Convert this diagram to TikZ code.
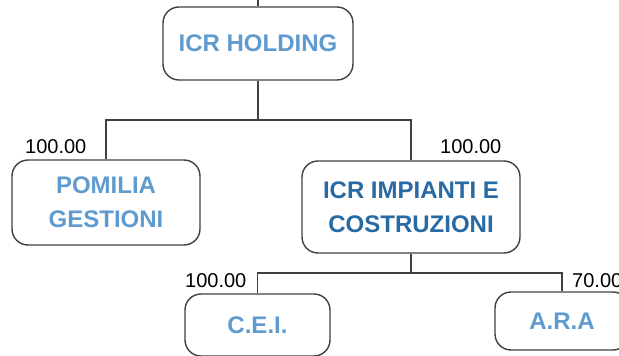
\documentclass[tikz,border=0pt]{standalone}
\usepackage{fontspec}
\setmainfont{Liberation Sans}
\usepackage{xcolor}
\usetikzlibrary{positioning}
\definecolor{orglight}{RGB}{96,155,208}
\definecolor{orgdark}{RGB}{40,106,163}
\definecolor{orgline}{RGB}{64,64,64}

\begin{document}
\begin{tikzpicture}[x=1pt, y=-1pt,
  every node/.style={font=\fontsize{24}{34}\selectfont\bfseries},
  unit/.style={draw=orgline, line width=1.4pt, rounded corners=16pt, fill=white, align=center,
    inner sep=0pt, text=orglight},
  head/.style={unit, text=orgdark},
  link/.style={draw=orgline, line width=1.1pt},
  share/.style={font=\fontsize{20}{24}\selectfont, anchor=base west, inner sep=0pt}
]
  \useasboundingbox (0,0) rectangle (619,356);
  \clip (0,0) rectangle (619,356);
  \def\colA{106}\def\colB{258}\def\colC{411}\def\colD{562}

  % top row
  \node[unit, minimum width=190pt, minimum height=73pt] (hold) at (\colB,43.5) {ICR HOLDING};

  % middle row
  \node[unit, minimum width=188pt, minimum height=85pt] (pom) at (\colA,202.5) {POMILIA\\GESTIONI};
  \node[head, minimum width=218pt, minimum height=92pt] (icr) at (\colC,207) {ICR IMPIANTI E\\COSTRUZIONI};

  % bottom row
  \node[unit, minimum width=145pt, minimum height=62pt] (cei) at (257.5,325) {C.E.I.};
  \node[unit, minimum width=134pt, minimum height=58pt] (ara) at (\colD,321) {A.R.A};

  % connectors
  \coordinate (top) at (\colB,0);
  \coordinate (busA) at (\colB,120);
  \coordinate (busB) at (\colC,273);
  \draw[link] (top) -- (hold.north);
  \draw[link] (hold.south) -- (busA);
  \draw[link] (pom.north) |- (busA) -| (icr.north);
  \draw[link] (icr.south) -- (busB);
  \draw[link] (cei.north) |- (busB) -| (ara.north);

  % shares
  \node[share] (sPom) at (25,153) {100.00};
  \node[share] (sIcr) at (440,153) {100.00};
  \node[share] (sCei) at (185,287) {100.00};
  \node[share] (sAra) at (572,287) {70.00};
\end{tikzpicture}
\end{document}
